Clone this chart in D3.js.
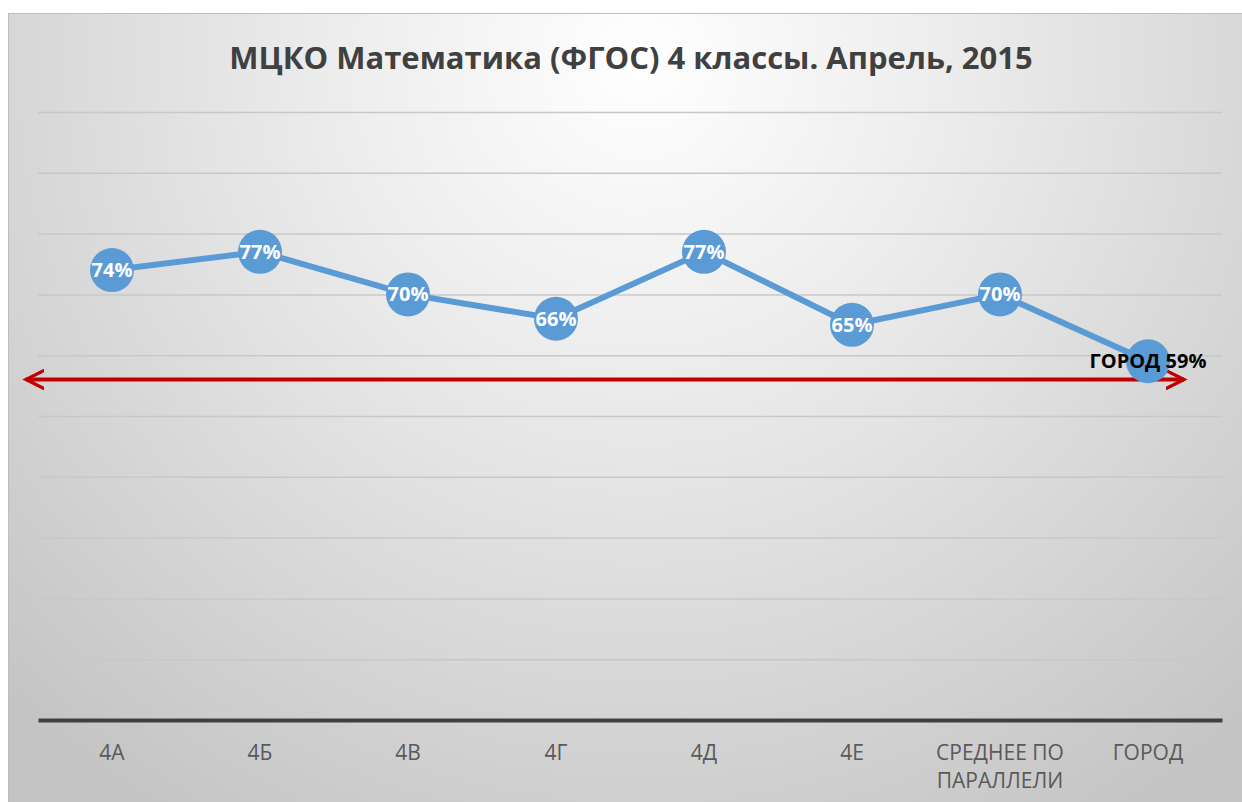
<!DOCTYPE html>
<html>
<head>
<meta charset="utf-8">
<script src="https://cdn.jsdelivr.net/npm/d3@7"></script>
<style>
  html, body { margin: 0; padding: 0; background: #fff; }
  svg { display: block; }
</style>
</head>
<body>
<div id="chart"></div>
<script>
const title = 'МЦКО Математика (ФГОС) 4 классы. Апрель, 2015';
const categories = ['4А', '4Б', '4В', '4Г', '4Д', '4Е', 'СРЕДНЕЕ ПО|ПАРАЛЛЕЛИ', 'ГОРОД'];
const values = [74, 77, 70, 66, 77, 65, 70, 59];
const pointLabels = ['74%', '77%', '70%', '66%', '77%', '65%', '70%', 'ГОРОД 59%'];
const yTicks = [0, 10, 20, 30, 40, 50, 60, 70, 80, 90, 100];
const cityArrowLevel = 56;

const W = 1242, H = 802;
const frame = { x: 8, y: 13, w: 1240, h: 795 };
const margin = { top: 112, right: 20, bottom: 82, left: 38 };
const width = W - margin.left - margin.right;
const height = H - margin.top - margin.bottom;

const svg = d3.select('#chart').append('svg')
    .attr('width', W)
    .attr('height', H);

const defs = svg.append('defs');
const grad = defs.append('radialGradient')
    .attr('id', 'bg')
    .attr('gradientUnits', 'userSpaceOnUse')
    .attr('cx', 640).attr('cy', 60).attr('r', 900)
    .attr('fx', 640).attr('fy', 60);
grad.append('stop').attr('offset', '0%').attr('stop-color', '#ffffff');
grad.append('stop').attr('offset', '35%').attr('stop-color', '#ececec');
grad.append('stop').attr('offset', '100%').attr('stop-color', '#c4c4c4');

defs.append('marker')
    .attr('id', 'arrow')
    .attr('viewBox', '0 0 12 12')
    .attr('refX', 10).attr('refY', 6)
    .attr('markerWidth', 5.5).attr('markerHeight', 5.5)
    .attr('markerUnits', 'strokeWidth')
    .attr('orient', 'auto-start-reverse')
    .append('path')
    .attr('d', 'M0,1 L10,6 L0,11')
    .attr('fill', 'none')
    .attr('stroke', '#c00000')
    .attr('stroke-width', 1.8)
    .attr('stroke-linejoin', 'miter');

svg.append('rect')
    .attr('x', frame.x + 0.5).attr('y', frame.y + 0.5)
    .attr('width', frame.w).attr('height', frame.h)
    .attr('fill', 'url(#bg)')
    .attr('stroke', '#bdbdbd');

svg.append('text')
    .attr('x', 631)
    .attr('y', 69)
    .attr('text-anchor', 'middle')
    .attr('font-family', '"Open Sans", sans-serif')
    .attr('font-weight', 'bold')
    .attr('font-size', 31)
    .attr('fill', '#404040')
    .text(title);

const g = svg.append('g')
    .attr('transform', `translate(${margin.left},${margin.top})`);

const x = d3.scalePoint()
    .domain(categories)
    .range([0, width])
    .padding(0.5);

const y = d3.scaleLinear()
    .domain([0, 100])
    .range([height, 0]);

// Gridlines
g.append('g')
    .attr('class', 'grid')
    .call(d3.axisLeft(y).tickValues(yTicks).tickSize(-width).tickFormat(''))
    .call(s => s.select('.domain').remove())
    .call(s => s.selectAll('line').attr('stroke', '#c8c8c8').attr('stroke-width', 1.5));

// X axis
const xAxis = g.append('g')
    .attr('transform', `translate(0,${height})`)
    .call(d3.axisBottom(x).tickSize(0).tickFormat(''));
xAxis.select('.domain').attr('stroke', '#404040').attr('stroke-width', 4);

const xLabels = g.append('g')
    .selectAll('text')
    .data(categories)
    .join('text')
    .attr('x', d => x(d))
    .attr('y', height + 40)
    .attr('text-anchor', 'middle')
    .attr('font-family', '"Open Sans", sans-serif')
    .attr('font-size', 21)
    .attr('fill', '#595959');
xLabels.each(function (d) {
    const parts = d.split('|');
    d3.select(this).selectAll('tspan')
        .data(parts)
        .join('tspan')
        .attr('x', x(d))
        .attr('dy', (p, i) => i === 0 ? 0 : 28)
        .text(p => p);
});

// City arrow
g.append('line')
    .attr('x1', -12)
    .attr('x2', x(categories[categories.length - 1]) + 36)
    .attr('y1', y(cityArrowLevel))
    .attr('y2', y(cityArrowLevel))
    .attr('stroke', '#c00000')
    .attr('stroke-width', 4)
    .attr('marker-start', 'url(#arrow)')
    .attr('marker-end', 'url(#arrow)');

// Line
const line = d3.line()
    .x((d, i) => x(categories[i]))
    .y(d => y(d));

g.append('path')
    .datum(values)
    .attr('fill', 'none')
    .attr('stroke', '#5b9bd5')
    .attr('stroke-width', 6)
    .attr('stroke-linejoin', 'round')
    .attr('d', line);

g.selectAll('.dot')
    .data(values)
    .join('circle')
    .attr('class', 'dot')
    .attr('cx', (d, i) => x(categories[i]))
    .attr('cy', d => y(d))
    .attr('r', 22)
    .attr('fill', '#5b9bd5');

g.selectAll('.lbl')
    .data(values)
    .join('text')
    .attr('class', 'lbl')
    .attr('x', (d, i) => x(categories[i]))
    .attr('y', d => y(d) + 7)
    .attr('text-anchor', 'middle')
    .attr('font-family', '"Open Sans", sans-serif')
    .attr('font-weight', 'bold')
    .attr('font-size', 20)
    .attr('fill', (d, i) => i === values.length - 1 ? '#000000' : '#ffffff')
    .text((d, i) => pointLabels[i]);
</script>
</body>
</html>
